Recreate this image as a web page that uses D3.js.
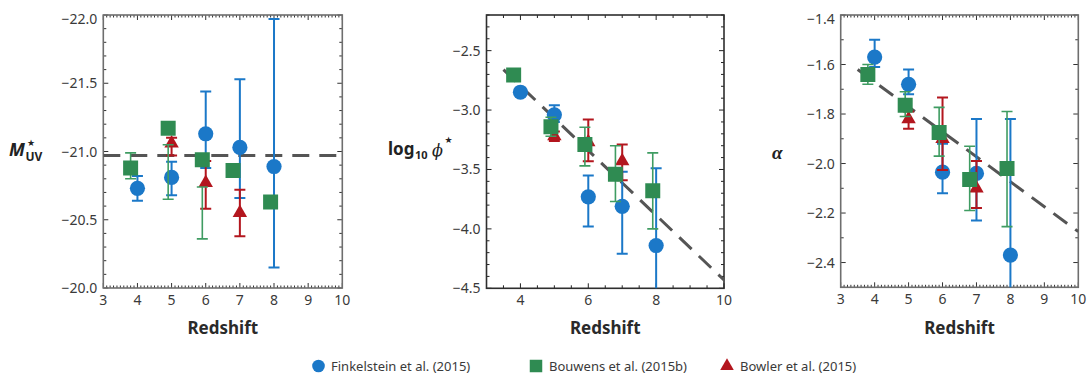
<!DOCTYPE html>
<html><head><meta charset="utf-8">
<script src="https://cdn.jsdelivr.net/npm/d3@7"></script>
<style>body{margin:0;background:#fff} svg{display:block}</style>
</head><body><svg id="c" width="1091" height="381"></svg>
<script>
// ---------- data ----------
const redshiftTicksAll = [3,4,5,6,7,8,9,10];
const redshiftTicksEven = [4,6,8,10];
const mTicks = [-20.0,-20.5,-21.0,-21.5,-22.0];
const phiTicks = [-2.5,-3.0,-3.5,-4.0,-4.5];
const alphaTicks = [-1.4,-1.6,-1.8,-2.0,-2.2,-2.4];

// Finkelstein et al. (2015)
const finkZ = [4,5,6,7,8];
const finkM = [-20.73,-20.81,-21.13,-21.03,-20.89];
const finkMErr = [[-20.64,-20.82],[-20.68,-20.925],[-20.88,-21.44],[-20.66,-21.53],[-20.15,-21.97]];
const finkPhi = [-2.85,-3.04,-3.73,-3.81,-4.14];
const finkPhiErr = [[-2.88,-2.82],[-3.10,-2.96],[-3.98,-3.55],[-4.21,-3.52],[-4.80,-3.49]];
const finkAlpha = [-1.57,-1.68,-2.035,-2.04,-2.37];
const finkAlphaErr = [[-1.61,-1.50],[-1.72,-1.62],[-2.12,-1.92],[-2.23,-1.82],[-2.70,-1.82]];

// Bouwens et al. (2015b)
const bouwZ = [3.8,4.9,5.9,6.8,7.9];
const bouwM = [-20.88,-21.17,-20.94,-20.86,-20.63];
const bouwMErr = [[-20.80,-20.99],[-20.65,-21.05],[-20.36,-20.74],null,null];
const bouwPhi = [-2.705,-3.14,-3.29,-3.54,-3.68];
const bouwPhiErr = [[-2.74,-2.67],[-3.22,-3.06],[-3.47,-3.145],[-3.77,-3.30],[-4.00,-3.36]];
const bouwAlpha = [-1.64,-1.765,-1.875,-2.065,-2.02];
const bouwAlphaErr = [[-1.68,-1.60],[-1.81,-1.71],[-1.97,-1.773],[-2.19,-1.93],[-2.255,-1.79]];

// Bowler et al. (2015)
const bowlZ = [5,6,7];
const bowlM = [-21.06,-20.77,-20.55];
const bowlMErr = [[-20.97,-21.10],[-20.58,-20.93],[-20.38,-20.72]];
const bowlPhi = [-3.22,-3.27,-3.43];
const bowlPhiErr = [[-3.26,-3.18],[-3.43,-3.08],[-3.59,-3.29]];
const bowlAlpha = [-1.82,-1.90,-2.10];
const bowlAlphaErr = [[-1.86,-1.79],[-2.026,-1.733],[-2.18,-1.99]];

// dashed fits
const mFitZ = [3,10], mFit = [-20.97,-20.97];
const fitZ = [3.5,10];
const phiFit = [-2.66,-4.43];
const alphaFit = [-1.62,-2.275];

const legendLabels = ["Finkelstein et al. (2015)","Bouwens et al. (2015b)","Bowler et al. (2015)"];

// ---------- style ----------
const BLUE = "#1b78c8", GREEN = "#2f8b52", GREENBAR = "#3f9c62", RED = "#b3161e";
const svg = d3.select("#c");
const FONT = "'Noto Sans', sans-serif";
const fmt = v => (v < 0 ? "\u2212" : "") + Math.abs(v).toFixed(1);

function panel(o) {
  const g = svg.append("g");
  const x = d3.scaleLinear().domain([3,10]).range([o.left,o.right]);
  const y = d3.scaleLinear().domain(o.yDomain).range([o.bottom,o.top]);
  const id = "clip" + o.id;
  svg.append("clipPath").attr("id", id).append("rect")
    .attr("x", o.left).attr("y", o.top).attr("width", o.right-o.left).attr("height", o.bottom-o.top);

  const tk = g.append("g").attr("stroke", o.tickColor).attr("stroke-width", 1);
  const eps = 1e-6;
  const xs = d3.range(3, 10+eps, o.xMinor);
  xs.forEach(v => {
    const major = Math.abs(v - Math.round(v/o.xMajor)*o.xMajor) < 1e-6;
    const L = major ? 5 : (o.xMinorLen||2.5);
    const px = x(v);
    tk.append("line").attr("x1",px).attr("x2",px).attr("y1",o.bottom).attr("y2",o.bottom-L);
    tk.append("line").attr("x1",px).attr("x2",px).attr("y1",o.top).attr("y2",o.top+L);
  });
  const [ya, yb] = [Math.min(...o.yDomain), Math.max(...o.yDomain)];
  const ys = d3.range(Math.ceil(ya/o.yMinor - 1e-6)*o.yMinor, yb+eps, o.yMinor);
  ys.forEach(v => {
    const major = Math.abs(v/o.yMajor - Math.round(v/o.yMajor)) < 1e-6;
    const L = major ? 5 : 3;
    const py = y(v);
    tk.append("line").attr("y1",py).attr("y2",py).attr("x1",o.left).attr("x2",o.left+L);
    tk.append("line").attr("y1",py).attr("y2",py).attr("x1",o.right).attr("x2",o.right-L);
  });
  g.append("rect").attr("x",o.left).attr("y",o.top).attr("width",o.right-o.left).attr("height",o.bottom-o.top)
    .attr("fill","none").attr("stroke",o.frameColor).attr("stroke-width",1.6);

  g.selectAll(".xl").data(o.xTicks).join("text")
    .attr("x", d => x(d)).attr("y", o.bottom + 17).attr("text-anchor","middle")
    .attr("font-family", FONT).attr("font-size", 14).attr("fill","#3a3a3a").text(d => d);
  g.selectAll(".yl").data(o.yTicks).join("text")
    .attr("x", o.left - 6).attr("y", d => Math.max(y(d), o.top + 4) + 5).attr("text-anchor","end")
    .attr("font-family", FONT).attr("font-size", 14).attr("fill","#3a3a3a").text(d => fmt(d));

  g.append("text").attr("x", (o.left+o.right)/2).attr("y", 334).attr("text-anchor","middle")
    .attr("font-family", FONT).attr("font-weight","bold").attr("font-size",17).attr("fill","#2a2a2a").text("Redshift");

  const plot = svg.append("g").attr("clip-path", `url(#${id})`);
  plot.append("path").datum(d3.zip(o.fitZ, o.fit))
    .attr("d", d3.line().x(d => x(d[0])).y(d => y(d[1])))
    .attr("fill","none").attr("stroke","#555").attr("stroke-width",3).attr("stroke-dasharray","17,10");

  function series(zs, vs, errs, color, barColor, barW, shape) {
    const s = plot.append("g");
    zs.forEach((z, i) => {
      const e = errs[i];
      if (e) {
        const px = x(z);
        const eb = s.append("g").attr("stroke", barColor).attr("stroke-width", barW);
        eb.append("line").attr("x1",px).attr("x2",px).attr("y1",y(e[0])).attr("y2",y(e[1]));
        eb.append("line").attr("x1",px-5.5).attr("x2",px+5.5).attr("y1",y(e[0])).attr("y2",y(e[0]));
        eb.append("line").attr("x1",px-5.5).attr("x2",px+5.5).attr("y1",y(e[1])).attr("y2",y(e[1]));
      }
    });
    zs.forEach((z, i) => {
      s.append("path").attr("d", d3.symbol().type(shape.type).size(shape.size)())
        .attr("transform", `translate(${x(z)},${y(vs[i])})`).attr("fill", color);
    });
  }
  series(finkZ, o.fink, o.finkErr, BLUE, BLUE, 2, {type: d3.symbolCircle, size: Math.PI*7.6*7.6});
  series(bowlZ, o.bowl, o.bowlErr, RED, RED, 2, {type: d3.symbolTriangle, size: 90});
  series(bouwZ, o.bouw, o.bouwErr, GREEN, GREENBAR, 1.6, {type: d3.symbolSquare, size: 15*15});
  return g;
}

panel({id:1, left:103.3, right:342.3, top:15, bottom:288, yDomain:[-20,-22],
  xMinor:0.1, xMajor:1, yMinor:0.1, yMajor:0.5, xTicks:redshiftTicksAll, yTicks:mTicks,
  frameColor:"#6e6e6e", tickColor:"#333", fitZ:mFitZ, fit:mFit,
  fink:finkM, finkErr:finkMErr, bouw:bouwM, bouwErr:bouwMErr, bowl:bowlM, bowlErr:bowlMErr});
panel({id:2, left:486.5, right:724, top:15, bottom:288.3, yDomain:[-4.5,-2.2],
  xMinor:0.5, xMajor:2, xMinorLen:3, yMinor:0.1, yMajor:0.5, xTicks:redshiftTicksEven, yTicks:phiTicks,
  frameColor:"#2e2e2e", tickColor:"#222", fitZ:fitZ, fit:phiFit,
  fink:finkPhi, finkErr:finkPhiErr, bouw:bouwPhi, bouwErr:bouwPhiErr, bowl:bowlPhi, bowlErr:bowlPhiErr});
panel({id:3, left:840.7, right:1078.3, top:15, bottom:287.3, yDomain:[-2.5,-1.4],
  xMinor:0.1, xMajor:1, yMinor:0.1, yMajor:0.2, xTicks:redshiftTicksAll, yTicks:alphaTicks,
  frameColor:"#6e6e6e", tickColor:"#333", fitZ:fitZ, fit:alphaFit,
  fink:finkAlpha, finkErr:finkAlphaErr, bouw:bouwAlpha, bouwErr:bouwAlphaErr, bowl:bowlAlpha, bowlErr:bowlAlphaErr});

// ---------- y-axis titles ----------
const T = svg.append("g").attr("fill","#222");
T.append("text").attr("x",9).attr("y",156).attr("font-family",FONT).attr("font-weight","bold")
  .attr("font-style","italic").attr("font-size",18).text("M");
T.append("text").attr("x",27).attr("y",146).attr("font-family","'DejaVu Sans'").attr("font-size",9).text("\u2605");
T.append("text").attr("x",25.5).attr("y",161).attr("font-family",FONT).attr("font-weight","bold").attr("font-size",12).text("UV");

T.append("text").attr("x",388).attr("y",155).attr("font-family",FONT).attr("font-weight","bold").attr("font-size",17).text("log");
T.append("text").attr("x",415).attr("y",159).attr("font-family",FONT).attr("font-weight","bold").attr("font-size",11).text("10");
T.append("text").attr("x",432).attr("y",156).attr("font-family","'DejaVu Serif'").attr("font-style","italic").attr("font-size",16).text("\u03D5");
T.append("text").attr("x",444.5).attr("y",143).attr("font-family","'DejaVu Sans'").attr("font-size",9).text("\u2605");

T.append("text").attr("x",772).attr("y",159).attr("font-family","'Liberation Serif'").attr("font-weight","bold")
  .attr("font-style","italic").attr("font-size",19).text("\u03B1");

// ---------- legend ----------
const legX = [318.5, 536, 727];
const legTextX = [331, 549, 740];
const legColors = [BLUE, GREEN, RED];
const legShapes = [[d3.symbolCircle, Math.PI*6.3*6.3],[d3.symbolSquare, 12.5*12.5],[d3.symbolTriangle, 80]];
const lg = svg.append("g");
legendLabels.forEach((lab, i) => {
  lg.append("path").attr("d", d3.symbol().type(legShapes[i][0]).size(legShapes[i][1])())
    .attr("transform", `translate(${legX[i]},${366})`).attr("fill", legColors[i]);
  lg.append("text").attr("x", legTextX[i]).attr("y", 371).attr("font-family",FONT).attr("font-size",13)
    .attr("fill","#3a3a3a").text(lab);
});
</script></body></html>
